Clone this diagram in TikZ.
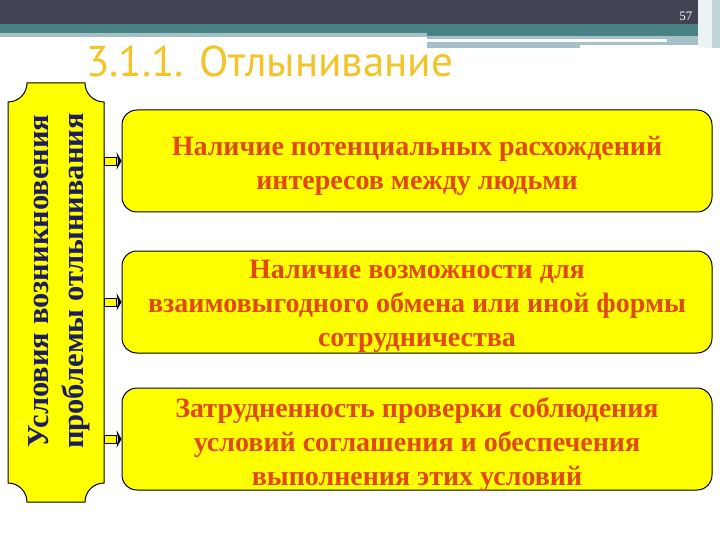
\documentclass[tikz,border=0pt]{standalone}
\usepackage{fontspec}
\setmainfont{Liberation Serif}
\newfontfamily\titlefont{PT Sans}
\usetikzlibrary{calc}
\definecolor{darkbar}{RGB}{65,66,82}
\definecolor{tealbar}{RGB}{74,131,134}
\definecolor{lightbar}{RGB}{165,193,199}
\definecolor{titlegold}{RGB}{242,196,40}
\definecolor{boxyellow}{RGB}{255,255,0}
\definecolor{boxtext}{RGB}{226,72,20}
\definecolor{navytext}{RGB}{28,28,96}
\tikzset{
  itembox/.style={draw=black, line width=1pt, fill=boxyellow, rounded corners=15pt,
    minimum width=590pt, minimum height=102pt, inner sep=0pt},
  itemtext/.style={align=center, inner sep=0pt,
    text=boxtext, font=\bfseries\fontsize{28}{34}\selectfont},
  shaft/.style={draw=black, line width=0.8pt, fill=boxyellow},
  head/.style={fill=black},
}
\begin{document}
\begin{tikzpicture}[x=1pt,y=-1pt]
\useasboundingbox (0,0) rectangle (720,540);
\fill[white] (0,0) rectangle (720,540);
% header bars
\fill[darkbar] (0,0) rectangle (720,24);
\fill[tealbar] (0,24) rectangle (720,33);
\fill[lightbar] (0,33) rectangle (427,37);
\fill[tealbar] (427,33) rectangle (720,36);
\fill[lightbar] (427,36) rectangle (720,48);
\fill[white] (427,39) rectangle (667,42);
\fill[white] (580,45) rectangle (698,48);
\fill[white!80!lightbar] (698,0) rectangle (712,48);
\fill[lightbar!70!white] (712,0) rectangle (720,48);
\node[text=white, font=\fontsize{13}{13}\selectfont, anchor=east] (pnum) at (696,16) {57};
% title
\node[text=titlegold, font=\titlefont\fontsize{43}{43}\selectfont, anchor=base west, inner sep=0pt] (title) at (86,77) {3.1.1. Отлынивание};
% left plaque
\draw[line width=1pt, fill=boxyellow]
  (27,83) -- (85,83) arc[start angle=180, end angle=90, radius=19]
  -- (104,483) arc[start angle=270, end angle=180, radius=19]
  -- (27,502) arc[start angle=0, end angle=-90, radius=19]
  -- (8,102) arc[start angle=90, end angle=0, radius=19] -- cycle;
\node[rotate=90, align=center, text=navytext, font=\bfseries\fontsize{30.5}{35}\selectfont, inner sep=0pt,
  minimum width=419pt, minimum height=96pt] (cond) at (59,281) {Условия возникновения\\проблемы отлынивания};
% right boxes
\node[itembox] (b1) at (417,161) {};
\node[itembox] (b2) at (417,302) {};
\node[itembox] (b3) at (417,439) {};
\node[itemtext] (t1) at ($(b1.center)+(0,5)$) {Наличие потенциальных расхождений\\интересов между людьми};
\node[itemtext] (t2) at ($(b2.center)+(0,4)$) {Наличие возможности для\\взаимовыгодного обмена или иной формы\\сотрудничества};
\node[itemtext] (t3) at ($(b3.center)+(0,5)$) {Затрудненность проверки соблюдения\\условий соглашения и обеспечения\\выполнения этих условий};
% arrows
\foreach \b in {b1,b2,b3}{
  \draw[shaft] ($(104,0 |- \b.west)+(0,-4)$) rectangle ($(\b.west)+(-5,4)$);
  \fill[head] ($(\b.west)+(-5,-9)$) -- ($(\b.west)+(0,0)$) -- ($(\b.west)+(-5,9)$) -- ($(\b.west)+(-3.5,0)$) -- cycle;
}
\end{tikzpicture}
\end{document}
